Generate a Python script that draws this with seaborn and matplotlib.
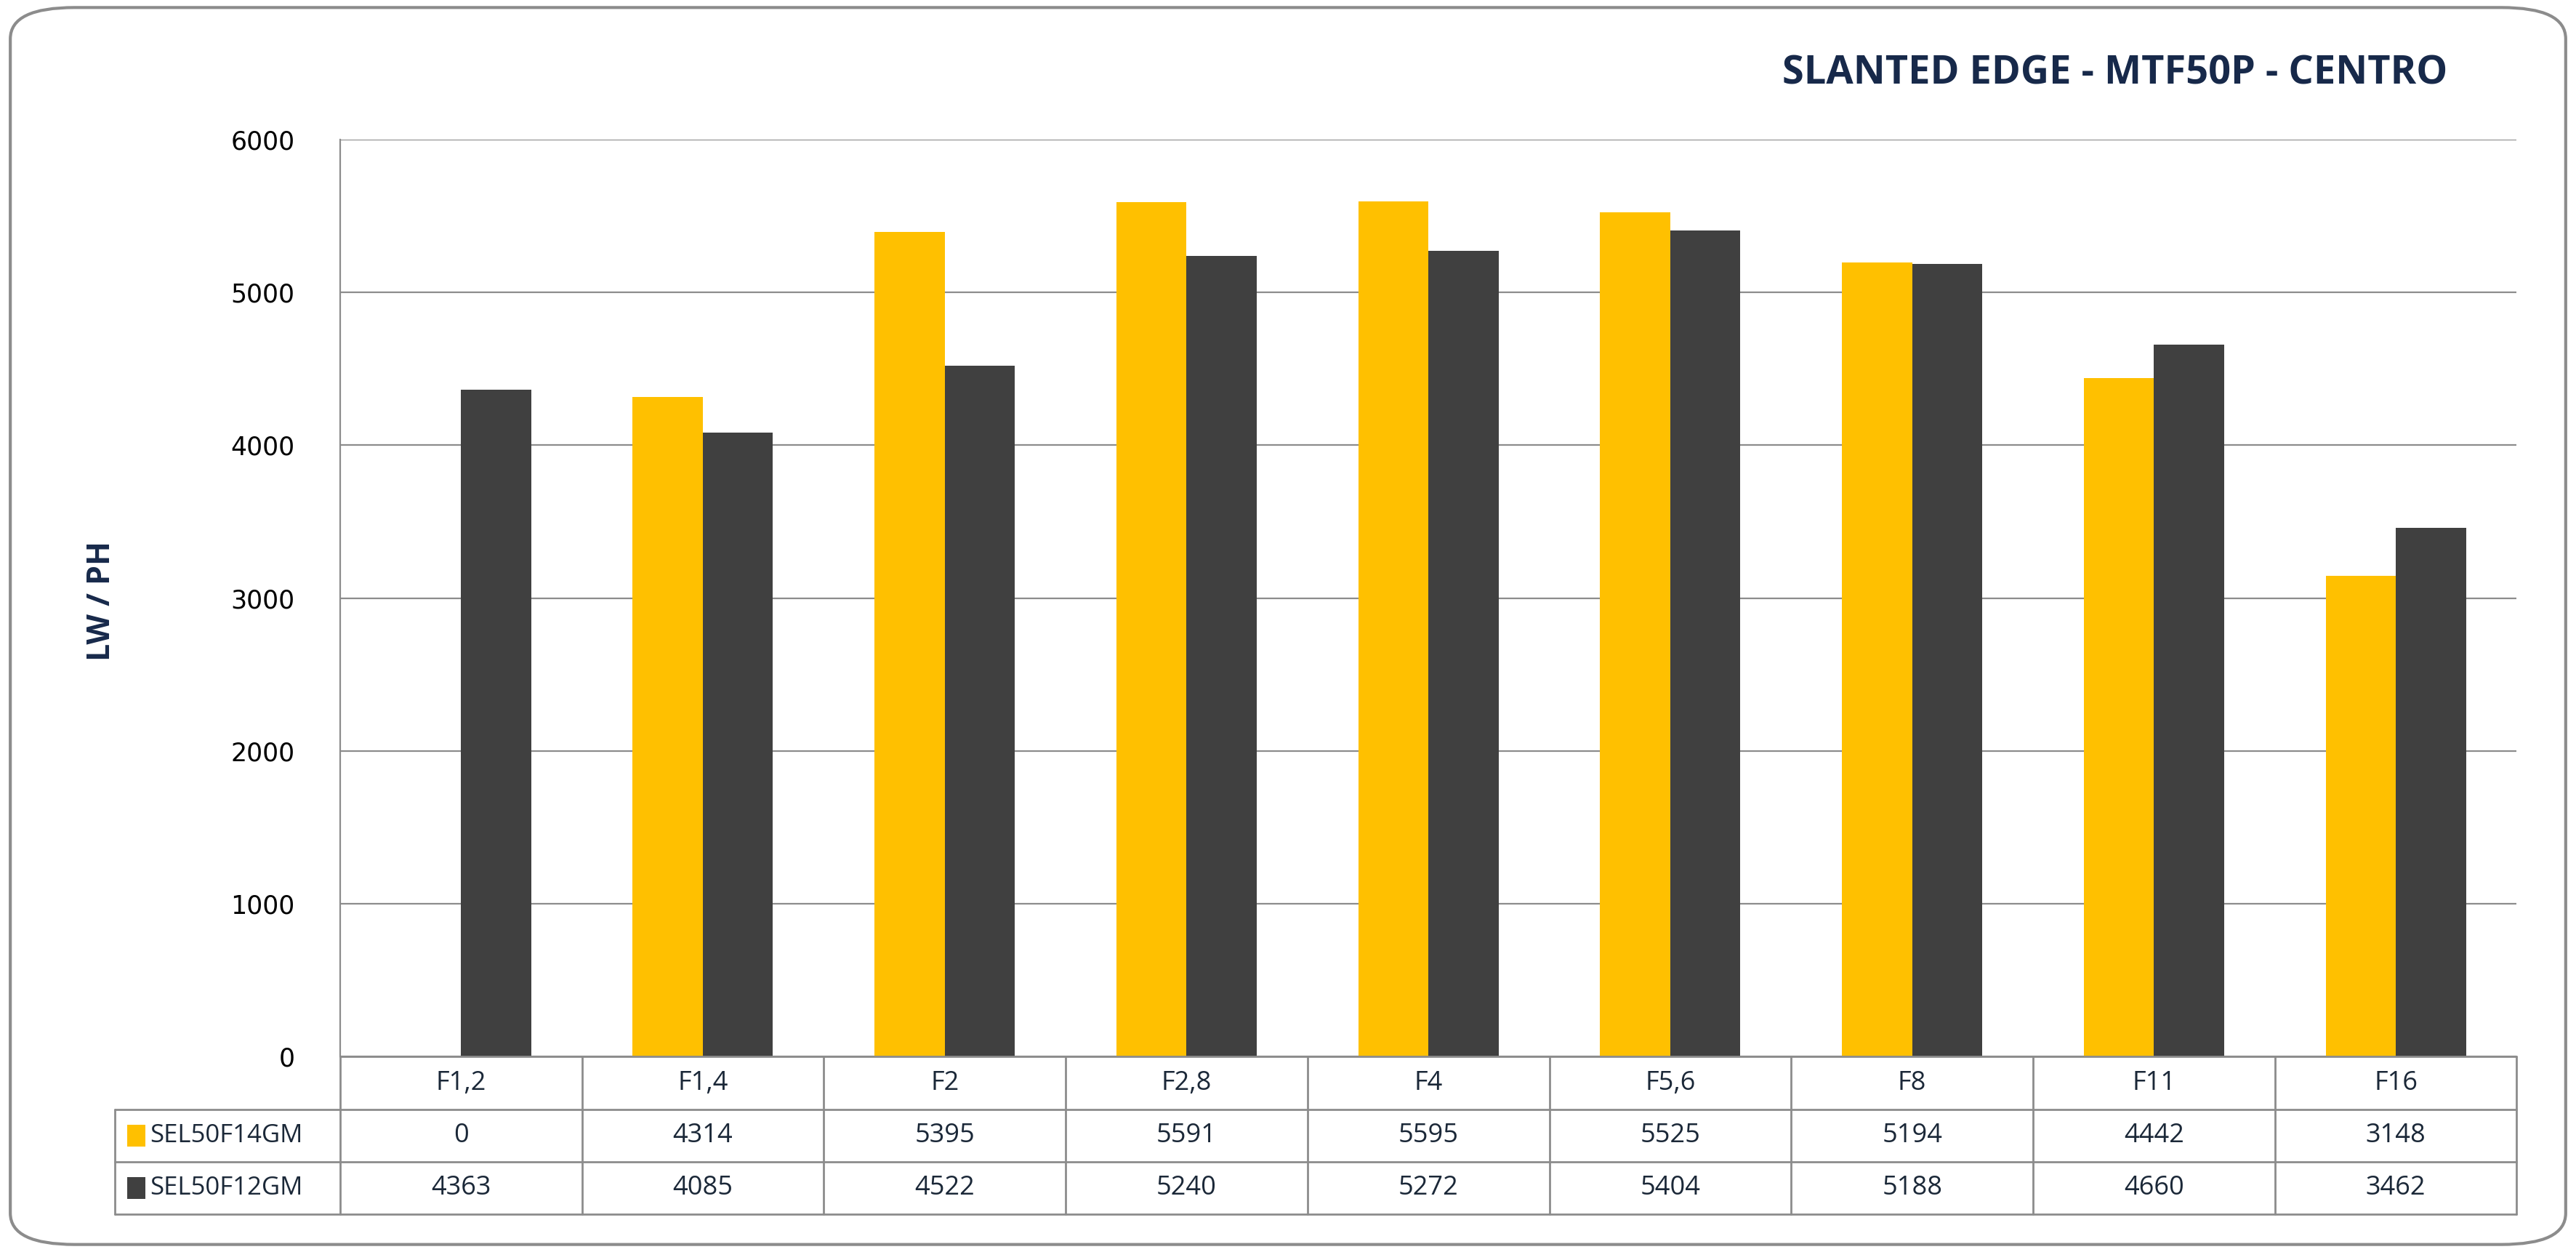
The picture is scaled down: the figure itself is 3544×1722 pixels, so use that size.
import pandas as pd
import seaborn as sns
import matplotlib.pyplot as plt
from matplotlib.patches import FancyBboxPatch, Rectangle
import matplotlib.transforms as mtransforms

stops = ["F1,2", "F1,4", "F2", "F2,8", "F4", "F5,6", "F8", "F11", "F16"]
sel50f14gm = [0, 4314, 5395, 5591, 5595, 5525, 5194, 4442, 3148]
sel50f12gm = [4363, 4085, 4522, 5240, 5272, 5404, 5188, 4660, 3462]
series = ["SEL50F14GM", "SEL50F12GM"]
colors = ["#FFC000", "#404040"]

df = pd.DataFrame({
    "stop": stops * 2,
    "value": sel50f14gm + sel50f12gm,
    "lens": [series[0]] * len(stops) + [series[1]] * len(stops),
})

sns.set_theme(style="white")
narrow = ["Open Sans", "DejaVu Sans"]
plt.rcParams["font.family"] = ["DejaVu Sans"]

fig = plt.figure(figsize=(35.44, 17.22), dpi=100)
ax = fig.add_axes([0.132, 0.156, 0.845, 0.7325])

sns.barplot(data=df, x="stop", y="value", hue="lens", palette=colors,
            width=0.58, gap=0, saturation=1, linewidth=0, legend=False,
            ax=ax, zorder=3)

ax.set_xlim(-0.5, len(stops) - 0.5)
ax.set_ylim(0, 6000)
ax.set_yticks(range(0, 6001, 1000))
ax.tick_params(axis="y", labelsize=25, colors="black", length=0, pad=45)
ax.set_xticks([])
ax.set_xlabel("")
ax.set_ylabel("")
ax.yaxis.grid(True, color="#8c8c8c", linewidth=1.6, zorder=0)
for side in ["top", "right", "bottom"]:
    ax.spines[side].set_visible(False)
ax.spines["left"].set_color("#8c8c8c")
ax.spines["left"].set_linewidth(1.6)

# data table under the axis
trans = mtransforms.blended_transform_factory(ax.transData, ax.transAxes)
rh = 0.0573
lc = "#8c8c8c"
lw = 2.0
n = len(stops)
left_col = -1.43
ax.plot([-0.5, n - 0.5], [0, 0], transform=trans, color=lc, lw=lw, clip_on=False, zorder=4)
for k in (1, 2, 3):
    ax.plot([left_col, n - 0.5], [-rh * k] * 2, transform=trans, color=lc, lw=lw, clip_on=False)
for i in range(n + 1):
    ax.plot([i - 0.5] * 2, [0, -3 * rh], transform=trans, color=lc, lw=lw, clip_on=False)
ax.plot([left_col] * 2, [-rh, -3 * rh], transform=trans, color=lc, lw=lw, clip_on=False)

txt = "#1b2838"
for i, s in enumerate(stops):
    ax.text(i, -0.5 * rh, s, transform=trans, ha="center", va="center",
            fontsize=26, color=txt, family=narrow)
for r, vals in enumerate([sel50f14gm, sel50f12gm]):
    y = -(1.5 + r) * rh
    for i, v in enumerate(vals):
        ax.text(i, y, str(v), transform=trans, ha="center", va="center",
                fontsize=26, color=txt, family=narrow)
    ax.add_patch(Rectangle((left_col + 0.05, y - 0.012), 0.075, 0.024, transform=trans,
                           facecolor=colors[r], edgecolor="none", clip_on=False))
    ax.text(left_col + 0.145, y, series[r], transform=trans, ha="left", va="center",
            fontsize=25, color=txt, family=narrow)

fig.text(0.0395, 0.52, "LW / PH", rotation=90, ha="center", va="center",
         fontsize=31, fontweight="bold", color="#17294a", family=narrow)
fig.text(0.950, 0.941, "SLANTED EDGE - MTF50P - CENTRO", ha="right", va="center",
         fontsize=39, fontweight="bold", color="#17294a", family=narrow)

fig.patches.append(FancyBboxPatch((0.004, 0.006), 0.992, 0.988,
                                  boxstyle="round,pad=0,rounding_size=0.025",
                                  transform=fig.transFigure, facecolor="none",
                                  edgecolor="#8c8c8c", linewidth=3))

fig.savefig("out.png", dpi=100)
